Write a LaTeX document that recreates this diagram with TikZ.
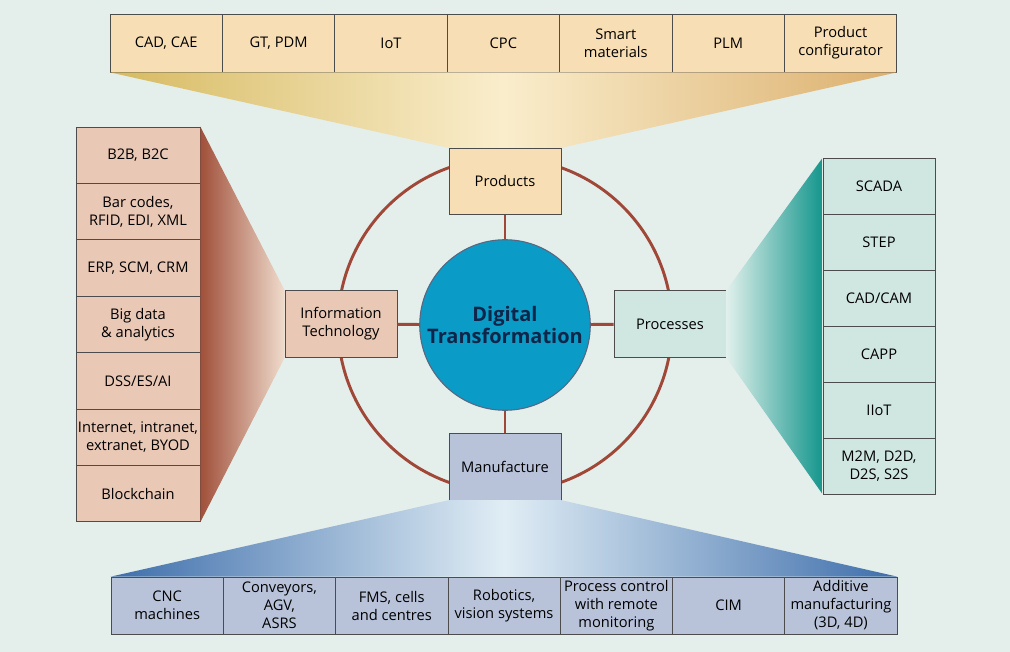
\documentclass[tikz,border=0pt]{standalone}
\usepackage{fontspec}
\setmainfont{Open Sans}
\usetikzlibrary{positioning,calc}
\definecolor{bgmint}{HTML}{E4EEEB}
\definecolor{peach}{HTML}{F8DEB4}
\definecolor{rose}{HTML}{E9C8B6}
\definecolor{aqua}{HTML}{CFE6E1}
\definecolor{lilac}{HTML}{B8C3DA}
\definecolor{ring}{HTML}{A04838}
\definecolor{core}{HTML}{0A9CC6}
\definecolor{navy}{HTML}{10254A}
\pgfdeclarehorizontalshading{goldfade}{100bp}{
    rgb(0bp)=(0.84,0.73,0.38); rgb(25bp)=(0.84,0.73,0.38);
    rgb(50bp)=(0.98,0.93,0.80); rgb(75bp)=(0.86,0.69,0.43);
    rgb(100bp)=(0.86,0.69,0.43)}
\pgfdeclarehorizontalshading{bluefade}{100bp}{
    rgb(0bp)=(0.24,0.43,0.67); rgb(25bp)=(0.24,0.43,0.67);
    rgb(50bp)=(0.88,0.93,0.96); rgb(75bp)=(0.24,0.43,0.67);
    rgb(100bp)=(0.24,0.43,0.67)}
\tikzset{
    box/.style = {
        draw = black!70,
        line width = 0.5pt,
        inner sep = 1pt,
        align = center,
        font = \fontsize{11}{13.5}\selectfont
    },
    topbox/.style = {box, fill = peach, minimum width = 84.3pt, minimum height = 43.5pt},
    leftbox/.style = {box, fill = rose, minimum width = 93pt, minimum height = 42.3pt},
    rightbox/.style = {box, fill = aqua, minimum width = 84pt, minimum height = 42pt},
    lowbox/.style = {box, fill = lilac, minimum width = 84.2pt, minimum height = 42.75pt},
    hub/.style = {box, minimum width = 84pt, minimum height = 50pt},
    spoke/.style = {draw = ring, line width = 2.2pt}
}
\begin{document}
\begin{tikzpicture}[x = 0.75pt, y = -0.75pt]
    % canvas
    \fill[bgmint] (0,0) rectangle (1010,652);
    \useasboundingbox (0,0) rectangle (1010,652);

    % ring
    \draw[spoke] (505,325) circle (167);

    % centre
    \node[circle, fill = core, draw = navy!70, line width = 0.8pt,
          minimum size = 118pt, align = center, text = navy,
          font = \fontsize{15}{17}\selectfont\bfseries] (core) at (505,325)
          {Digital\\Transformation};

    % hubs
    \node[hub, fill = peach] (prod) at (505,181.5) {Products};
    \node[hub, fill = rose] (infotech) at (341,324) {Information\\Technology};
    \node[hub, fill = aqua] (proc) at (670,324) {Processes};
    \node[hub, fill = lilac] (manuf) at (505,466.5) {Manufacture};

    % spokes
    \draw[spoke] (prod) -- (core);
    \draw[spoke] (infotech) -- (core);
    \draw[spoke] (proc) -- (core);
    \draw[spoke] (manuf) -- (core);

    % top row
    \foreach \lbl [count=\i] in {{CAD, CAE}, {GT, PDM}, IoT, CPC,
            {Smart\\materials}, PLM, {Product\\configurator}}
        \node[topbox] (top\i) at ({110 + 112.4*(\i - 0.5)}, 43) {\lbl};

    % left column
    \foreach \lbl [count=\i] in {{B2B, B2C}, {Bar codes,\\RFID, EDI, XML},
            {ERP, SCM, CRM}, {Big data\\\& analytics}, DSS/ES/AI,
            {Internet, intranet,\\extranet, BYOD}, Blockchain}
        \node[leftbox] (left\i) at (138, {127 + 56.4*(\i - 0.5)}) {\lbl};

    % right column
    \foreach \lbl [count=\i] in {SCADA, STEP, CAD/CAM, CAPP, IIoT,
            {M2M, D2D,\\D2S, S2S}}
        \node[rightbox] (right\i) at (879, {158 + 56*(\i - 0.5)}) {\lbl};

    % bottom row
    \foreach \lbl [count=\i] in {{CNC\\machines}, {Conveyors,\\AGV,\\ASRS},
            {FMS, cells\\and centres}, {Robotics,\\vision systems},
            {Process control\\with remote\\monitoring}, CIM,
            {Additive\\manufacturing\\(3D, 4D)}}
        \node[lowbox] (low\i) at ({111 + 112.3*(\i - 0.5)}, 605.5) {\lbl};

    % funnels
    \shade[shading = goldfade]
        (top1.south west) -- (top7.south east) -- (prod.north east) -- (prod.north west) -- cycle;
    \shade[left color = {rgb,255:red,160;green,80;blue,58},
           right color = {rgb,255:red,240;green,220;blue,205}]
        (left1.north east) -- (infotech.north west) -- (infotech.south west) -- (left7.south east) -- cycle;
    \shade[left color = {rgb,255:red,225;green,240;blue,236},
           right color = {rgb,255:red,20;green,150;blue,140}]
        (proc.north east) -- (right1.north west) -- (right6.south west) -- (proc.south east) -- cycle;
    \shade[shading = bluefade]
        (manuf.south west) -- (manuf.south east) -- (low7.north east) -- (low1.north west) -- cycle;
\end{tikzpicture}
\end{document}
